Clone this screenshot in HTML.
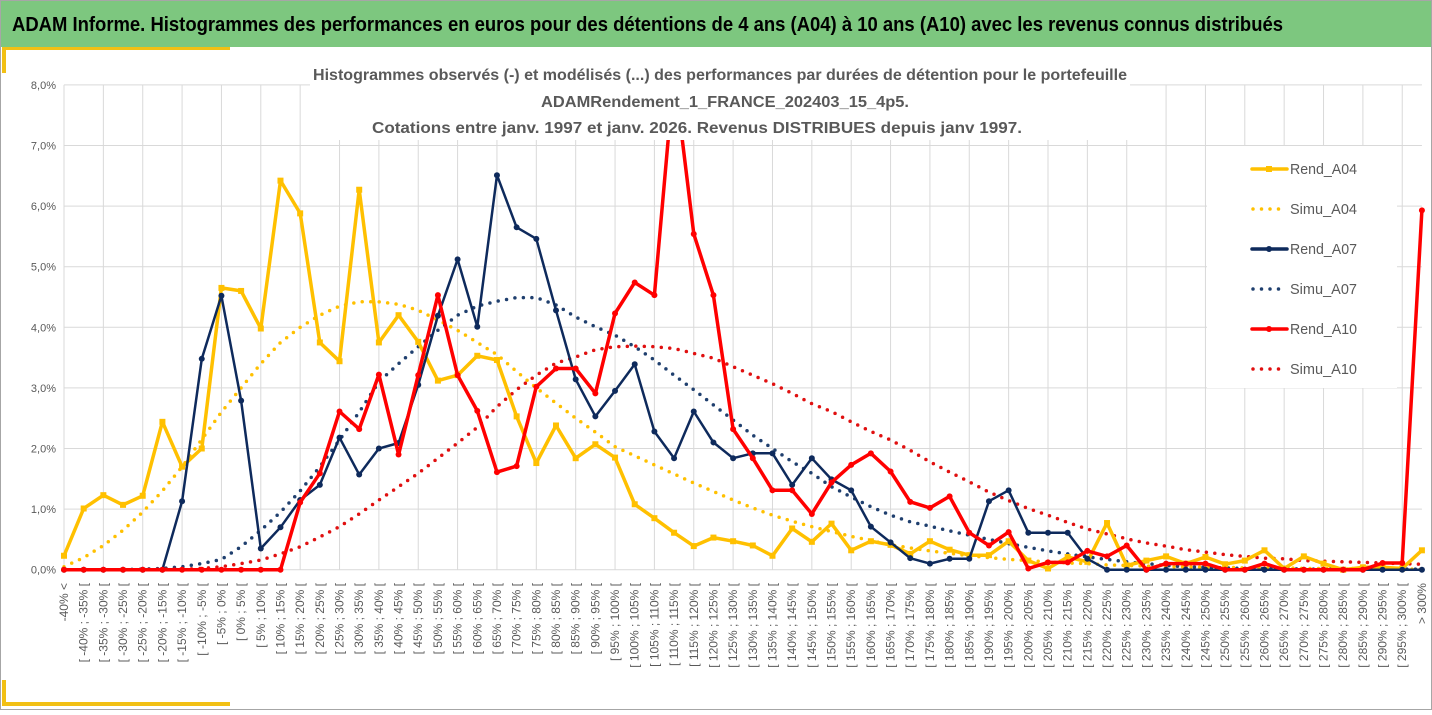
<!DOCTYPE html>
<html><head><meta charset="utf-8"><style>
html,body{margin:0;padding:0;background:#fff;}
body{width:1432px;height:710px;overflow:hidden;font-family:"Liberation Sans",sans-serif;}
svg text{font-family:"Liberation Sans",sans-serif;}
</style></head><body>
<svg id="chart" width="1432" height="710" viewBox="0 0 1432 710" xmlns="http://www.w3.org/2000/svg">
<rect x="0" y="0" width="1432" height="710" fill="#fff"/>
<rect x="0.5" y="0.5" width="1431" height="709" fill="none" stroke="#a6a6a6"/>
<rect x="1" y="1" width="1430" height="46" fill="#7dc77f"/>
<text x="12" y="31" font-size="20" font-weight="bold" fill="#000" textLength="1271" lengthAdjust="spacingAndGlyphs">ADAM Informe. Histogrammes des performances en euros pour des détentions de 4 ans (A04) à 10 ans (A10) avec les revenus connus distribués</text>
<rect x="2" y="47" width="228" height="3" fill="#f2c014"/>
<rect x="2" y="47" width="4" height="26" fill="#f2c014"/>
<rect x="2" y="702" width="228" height="4" fill="#f2c014"/>
<rect x="2" y="680" width="4" height="26" fill="#f2c014"/>
<g id="grid"></g>
<g id="series"></g>
<rect x="310" y="60" width="820" height="80" fill="#fff"/>
<g fill="#595959" font-size="16" font-weight="bold">
<text x="313" y="80" textLength="814" lengthAdjust="spacingAndGlyphs">Histogrammes observés (-) et modélisés (...) des performances par durées de détention pour le portefeuille</text>
<text x="541" y="107" textLength="368" lengthAdjust="spacingAndGlyphs">ADAMRendement_1_FRANCE_202403_15_4p5.</text>
<text x="372" y="133" textLength="650" lengthAdjust="spacingAndGlyphs">Cotations entre janv. 1997 et janv. 2026. Revenus DISTRIBUES depuis janv 1997.</text>
</g>
<g id="legend"></g>
<g id="axes"></g>
</svg>
<script>
const categories = (function(){const c=["-40% <"];for(let a=-40;a<300;a+=5){c.push("[ "+a+"% ; "+(a+5)+"% [");}c.push("> 300%");return c;})();
const yTicks = [0,1,2,3,4,5,6,7,8];
const yTickLabels = ["0,0%","1,0%","2,0%","3,0%","4,0%","5,0%","6,0%","7,0%","8,0%"];
const rendA04 = [0.23,1.01,1.23,1.07,1.22,2.44,1.70,2.00,4.65,4.60,3.98,6.42,5.88,3.75,3.44,6.27,3.75,4.20,3.76,3.12,3.21,3.53,3.46,2.53,1.76,2.38,1.84,2.07,1.85,1.08,0.85,0.61,0.39,0.53,0.47,0.40,0.23,0.68,0.46,0.76,0.32,0.47,0.41,0.26,0.47,0.33,0.24,0.24,0.47,0.15,0.02,0.21,0.13,0.77,0.07,0.15,0.22,0.10,0.21,0.09,0.15,0.32,0.02,0.22,0.10,0.00,0.04,0.04,0.02,0.32];
const simuA04 = [0.05,0.2,0.4,0.65,0.95,1.3,1.7,2.15,2.6,3.0,3.4,3.75,4.0,4.2,4.35,4.42,4.42,4.38,4.28,4.12,3.95,3.75,3.55,3.27,3.0,2.75,2.5,2.27,2.03,1.88,1.73,1.58,1.43,1.29,1.15,1.02,0.9,0.8,0.71,0.63,0.55,0.48,0.41,0.36,0.31,0.27,0.23,0.2,0.17,0.15,0.13,0.11,0.1,0.08,0.07,0.06,0.05,0.05,0.04,0.04,0.03,0.03,0.03,0.02,0.02,0.02,0.02,0.01,0.01,0.01];
const rendA07 = [0,0,0,0,0,0,1.13,3.48,4.52,2.79,0.35,0.70,1.15,1.40,2.18,1.57,2.00,2.09,3.05,4.19,5.12,4.01,6.51,5.65,5.46,4.28,3.14,2.53,2.95,3.39,2.28,1.84,2.61,2.10,1.84,1.92,1.92,1.40,1.84,1.49,1.31,0.71,0.45,0.19,0.10,0.18,0.18,1.13,1.31,0.61,0.61,0.61,0.18,0,0,0,0,0,0,0,0,0,0,0,0,0,0,0,0,0];
const simuA07 = [0,0,0,0,0.01,0.02,0.05,0.1,0.17,0.38,0.65,0.95,1.3,1.7,2.14,2.6,3.1,3.4,3.68,3.95,4.2,4.35,4.43,4.49,4.49,4.37,4.17,4.01,3.87,3.68,3.46,3.21,2.97,2.72,2.47,2.22,2.0,1.78,1.59,1.37,1.2,1.04,0.9,0.79,0.72,0.64,0.57,0.5,0.43,0.37,0.31,0.26,0.21,0.17,0.13,0.1,0.07,0.05,0.04,0.03,0.02,0.02,0.02,0.01,0.01,0.01,0.01,0.01,0.01,0.01];
const rendA10 = [0,0,0,0,0,0,0,0,0,0,0,0,1.11,1.59,2.61,2.32,3.22,1.90,3.21,4.53,3.21,2.62,1.61,1.71,3.02,3.32,3.32,2.91,4.23,4.74,4.53,8.2,5.54,4.53,2.32,1.84,1.31,1.31,0.92,1.44,1.73,1.92,1.62,1.12,1.02,1.21,0.61,0.40,0.62,0.02,0.12,0.12,0.31,0.22,0.40,0,0.10,0.10,0.10,0,0,0.10,0,0,0,0,0,0.11,0.11,5.93];
const simuA10 = [0,0,0,0,0,0.01,0.01,0.02,0.05,0.1,0.16,0.26,0.38,0.54,0.71,0.92,1.15,1.37,1.59,1.84,2.09,2.35,2.69,2.97,3.21,3.41,3.51,3.63,3.68,3.69,3.68,3.65,3.57,3.49,3.35,3.21,3.07,2.91,2.74,2.61,2.44,2.28,2.14,1.97,1.78,1.61,1.45,1.28,1.14,1.01,0.9,0.78,0.67,0.59,0.51,0.44,0.39,0.33,0.29,0.25,0.22,0.19,0.18,0.15,0.14,0.13,0.12,0.11,0.1,0.09];

const NS="http://www.w3.org/2000/svg";
const X0=64, DX=19.68, Y0=569.7, DY=60.6;
function xScale(i){return X0+i*DX;}
function yScale(v){return Y0-v*DY;}
function mk(tag,attrs,parent){const e=document.createElementNS(NS,tag);for(const k in attrs)e.setAttribute(k,attrs[k]);parent.appendChild(e);return e;}

const grid=document.getElementById('grid');
const axes=document.getElementById('axes');
const series=document.getElementById('series');
const legend=document.getElementById('legend');
const xEnd=xScale(categories.length-1);

yTicks.forEach((t,k)=>{
  const l=mk('line',{x1:X0,x2:xEnd,y1:yScale(t),y2:yScale(t),stroke:'#d9d9d9','stroke-width':1},grid);
  
  
  const tx=mk('text',{x:56,y:yScale(t)+4,'text-anchor':'end','font-size':11,fill:'#595959'},axes);
  tx.textContent=yTickLabels[k];
  
  
});
categories.forEach((c,i)=>{
  if(i%2===0){
    const l=mk('line',{x1:xScale(i),x2:xScale(i),y1:yScale(8),y2:Y0,stroke:'#d9d9d9','stroke-width':1},grid);
    
    
  }
  const x=xScale(i)+4, y=583;
  const tx=mk('text',{x:x,y:y,transform:'rotate(-90 '+x+' '+y+')','text-anchor':'end','font-size':12,fill:'#595959'},axes);
  tx.textContent=c;
  
  
});

const defs=[
 {name:'Rend_A04',data:rendA04,color:'#ffc000',w:3.5,dot:false,marker:'square'},
 {name:'Simu_A04',data:simuA04,color:'#ffc000',w:3.5,dot:true},
 {name:'Rend_A07',data:rendA07,color:'#0e2a5c',w:2.5,dot:false,marker:'circle'},
 {name:'Simu_A07',data:simuA07,color:'#1f3f6e',w:3.5,dot:true},
 {name:'Rend_A10',data:rendA10,color:'#ff0000',w:3.5,dot:false,marker:'circle'},
 {name:'Simu_A10',data:simuA10,color:'#e01010',w:3.5,dot:true}
];
const order=[1,3,5,0,2,4];
order.forEach(si=>{
  const s=defs[si];
  const g=mk('g',{},series);
  
  
  const pts=s.data.map((v,i)=>xScale(i).toFixed(1)+','+yScale(v).toFixed(1)).join(' ');
  const pl=mk('polyline',{points:pts,fill:'none',stroke:s.color,'stroke-width':s.w,'stroke-linejoin':'round','stroke-linecap':'round'},g);
  if(s.dot){pl.setAttribute('stroke-dasharray','0 8.5');}
  
  
  if(s.marker){
    s.data.forEach((v,i)=>{
      let m;
      if(s.marker==='square'){m=mk('rect',{x:xScale(i)-3,y:yScale(v)-3,width:6,height:6,fill:s.color},g);}
      else{m=mk('circle',{cx:xScale(i),cy:yScale(v),r:3,fill:s.color},g);}
      
      
    });
  }
});

const lb=mk('rect',{x:1207,y:146,width:190,height:242,fill:'#fff'},legend);


defs.forEach((s,k)=>{
  const y=169+k*40;
  const g=mk('g',{},legend);
  
  
  const l=mk('line',{x1:1252,x2:1287,y1:y,y2:y,stroke:s.color,'stroke-width':3.5,'stroke-linecap':'round'},g);
  if(s.dot){l.setAttribute('stroke-dasharray','0 8.5');l.setAttribute('x1',1253);l.setAttribute('x2',1280);}
  if(s.marker){
    if(s.marker==='square')mk('rect',{x:1266,y:y-3,width:6,height:6,fill:s.color},g);
    else mk('circle',{cx:1269,cy:y,r:3,fill:s.color},g);
  }
  const t=mk('text',{x:1290,y:y+5,'font-size':15,fill:'#595959',textLength:67,lengthAdjust:'spacingAndGlyphs'},g);
  t.textContent=s.name;
});
</script>
</body></html>
